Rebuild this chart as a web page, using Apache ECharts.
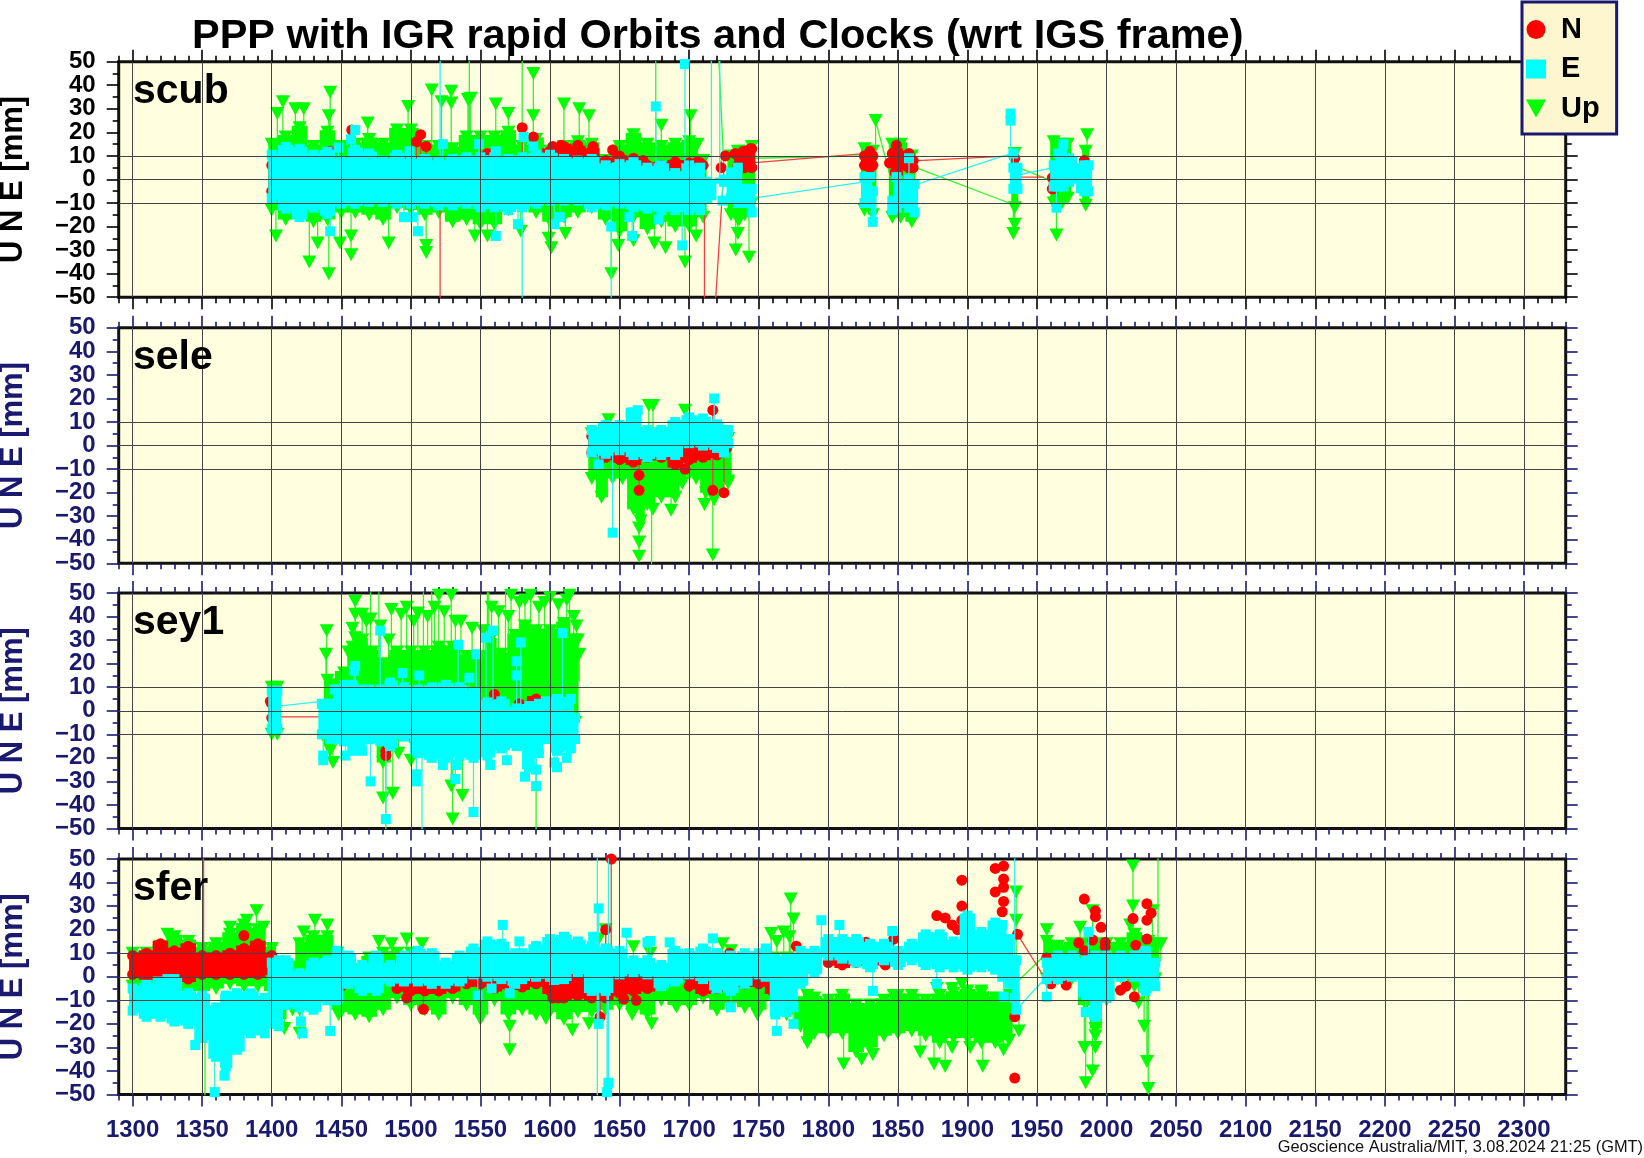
<!DOCTYPE html>
<html><head><meta charset="utf-8">
<style>html,body{margin:0;padding:0;background:#fff}#c{width:1644px;height:1158px}</style>
<script src="https://cdn.jsdelivr.net/npm/echarts@6/dist/echarts.min.js"></script>
</head><body><div id="c"></div>
<script>
const stations=['scub','sele','sey1','sfer'];
const yGridValues=[-10,0,10];
const yLabelsA=[-50,-30,-10,10,30,50];
const yLabelsB=[-40,-20,0,20,40];
const weekMajor=[1300,1350,1400,1450,1500,1550,1600,1650,1700,1750,1800,1850,1900,1950,2000,2050,2100,2150,2200,2250,2300];

// band columns: [week, high, low]; points: [week, value]; links: [[w,v],[w,v]]
const scubEBand=[[1400,10.5,-8],[1410,13.8,-12.4],[1420,13,-16],[1430,10.5,-12],[1440,11.8,-14.6],[1450,8,-10.3],[1460,12.6,-10.3],[1470,11,-9.6],[1480,8,-9.6],[1490,10.5,-10.3],[1500,8,-10.3],[1510,8.7,-10.3],[1520,7.3,-11],[1530,8.7,-11],[1540,9.4,-10.3],[1550,9.4,-11.8],[1560,9.4,-11.8],[1570,8.7,-13],[1580,9.4,-11.8],[1590,10.5,-10.3],[1600,10.5,-9],[1610,8.7,-9],[1620,8,-9],[1630,8.7,-11.8],[1640,6,-11],[1650,6.5,-10.3],[1660,7.3,-11.8],[1670,5,-12.4],[1680,6,-13],[1690,2.7,-13],[1700,6,-13],[1708,5,-13],[1713,-1,-8],[1725,0,-1],[1730,3,-8],[1735,5,-10],[1740,-4,-10],[1745,-4,-14],[1826,1,-10],[1830,1,-10],[1832,-5,-18],[1846,-9,-13],[1849,1,-12],[1852,-2,-10],[1858,0,-12],[1862,-2,-14],[1933,5,-4],[1936,5,-4],[1962,6,-3],[1965,11,-3],[1969,15,-3],[1973,9,-1],[1984,6,-5],[1987,6,-5]];
const scubEPts=[[1448,13.5],[1460,21],[1457,17],[1523,15],[1499,12],[1549,15],[1561,12],[1581,18],[1588,14],[1676,31],[1697,49],[1442,-22],[1505,-22],[1495,-16],[1501,-16],[1561,-24],[1577,-19],[1603,-19],[1607,-16],[1644,-20],[1657,-16],[1659,-24],[1678,-17],[1695,-28],[1724,-9],[1521,80],[1580,-80],[1644,-80],[1716,80],[1722,80],[1858,9],[1931,28],[1931,25],[1933,11],[1964,-12]];
const scubELinks=[[[1745,-8],[1826,-1]],[[1864,-2],[1931,11]],[[1937,2],[1962,5]]];
const scubNBand=[[1400,6,-5],[1410,7,-5],[1420,7,-5],[1430,6,-5],[1440,6,-5],[1450,5,-5],[1460,6,-5],[1470,6,-5],[1480,6,-5],[1490,7,-5],[1500,8,-5],[1510,8,-5],[1520,5,-5],[1530,6,-5],[1540,6,-5],[1550,9,-5],[1560,7,-5],[1570,6,-5],[1580,7,-5],[1590,8,-5],[1600,12,-5],[1610,14,-5],[1620,13,-5],[1630,12,-5],[1640,8,-5],[1650,9,-5],[1660,8,-5],[1670,6,-5],[1680,6,-5],[1690,7,-5],[1700,7,-5],[1708,7,-5],[1735,10,6],[1740,12,5],[1745,13,5],[1826,10,6],[1830,12,5],[1832,10,6],[1848,12,3],[1858,11,5],[1861,8,5],[1934,9,5],[1961,0.7,-4],[1984,8,3]];
const scubNPts=[[1442,12],[1457.5,21],[1507,19],[1504,16],[1511,14],[1580,22],[1588,18],[1555,11],[1602,14],[1608,14.5],[1620,14.5],[1631,14],[1645,12.5],[1650,10],[1660,9],[1667,8],[1690,7.5],[1706,7.5],[1710,6],[1521,-80],[1711,-80],[1726,10],[1723,5],[1733,11],[1739,12],[1744,13],[1742,5.5],[1849,14.5],[1846,11],[1844,7],[1858,5],[1962,-4]];
const scubNLinks=[[[1717,-70],[1725,5]],[[1745,7],[1826,11]],[[1864,8],[1932,10]],[[1935,1],[1955,1]]];
const scubUBand=[[1400,15,-13],[1410,18,-17],[1420,22,-12],[1430,14,-18],[1440,20,-17],[1450,14,-14],[1460,15,-14],[1470,17,-15],[1480,15,-17],[1490,21,-12],[1500,21,-13],[1510,14,-15],[1520,14,-14],[1530,13,-18],[1540,18,-17],[1550,18,-19],[1560,18,-19],[1570,20,-13],[1580,14,-12],[1590,17,-14],[1600,12,-18],[1610,14,-16],[1620,16,-14],[1630,15,-12],[1640,8,-17],[1650,14,-22],[1660,19,-16],[1670,15,-21],[1680,14,-18],[1690,15,-20],[1700,16,-20],[1710,8,-16],[1730,10,-15],[1735,12,-17],[1740,12,-15],[1745,14,-10],[1826,13,-13],[1832,12,-15],[1846,15,-16],[1852,15,-16],[1860,10,-18],[1934,11,-12],[1962,16,-10],[1968,15,-10],[1972,15,-8],[1985,12,-11]];
const scubUPts=[[1404,28],[1408,33],[1417,30],[1423,30],[1442,37],[1441,27],[1469,24],[1498,31],[1515,38],[1529,37.5],[1529,32.5],[1522,33],[1541,34],[1543,34.5],[1561,32],[1570,28],[1588,45],[1588,27],[1610,32],[1621,30],[1628,27],[1680,23],[1701,27],[1706,15],[1403,-24],[1427,-35],[1441,-40],[1433,-27],[1449,-27],[1457,-32],[1457,-24],[1484,-27],[1511,-31],[1511,-28],[1546,-24],[1555,-24],[1579,-22],[1599,-25],[1601,-29],[1611,-23],[1644,-40],[1649,-28],[1660,-26],[1675,-27],[1683,-29],[1697,-35],[1705,-24],[1542,80],[1580,80],[1676,80],[1733.5,-30],[1743,-33],[1735,-23],[1736,-17],[1934,-19],[1933,-23],[1964,-23.6],[1986,19],[1834,25]];
const scubULinks=[[[1719,80],[1725,5]],[[1745,9],[1826,10]],[[1834,25],[1846,-2]],[[1863,5],[1930,-10]],[[1937,5],[1962,-1]]];

const seleEBand=[[1630,6.6,-3],[1640,8.7,-3.5],[1650,8.7,-2],[1660,14,-4],[1670,6.6,-5],[1680,6.6,-4],[1690,10,-4],[1700,12,1],[1710,11.5,0],[1720,9,-1],[1728,6.6,1]];
const seleEPts=[[1718,20],[1635,-8],[1645,-37],[1725,-3],[1663,15],[1658,14]];
const seleELinks=[];
const seleNBand=[[1630,4,-3],[1640,4,-5],[1650,4,-6],[1660,4,-7],[1670,4,-5],[1680,3,-5],[1690,3,-8],[1700,3,-6],[1710,3,-5],[1720,3,-4],[1727,2,-1]];
const seleNPts=[[1664,-12.6],[1664,-19],[1717,15],[1717,-19],[1725,-20],[1697,-10]];
const seleNLinks=[];
const seleUBand=[[1630,5,-14],[1637,5,-22],[1645,5,-14],[1652,3,-14],[1660,5,-27],[1665,5,-32],[1670,5,-25],[1680,5,-22],[1690,5,-22],[1695,5,-16],[1700,3,-12],[1705,3,-14],[1712,5,-20],[1720,3,-20],[1728,3,-15]];
const seleUPts=[[1642,11],[1671,17],[1674,17],[1697,15],[1664,-47],[1664,-41],[1664,-35],[1664,-29],[1674,-27],[1687,-27.5],[1711,-25],[1718,-23],[1717,-46.5],[1673,-80],[1728,-16]];
const seleULinks=[];

const sey1EBand=[[1400,8.5,-7.6],[1404,8.5,-7.6],[1436,3,-10],[1442,3,-12],[1447,9,-12],[1452,11,-13],[1458,11,-17],[1465,9,-17],[1470,9,-12],[1478,9,-13],[1485,12,-15],[1495,10,-11],[1505,9,-18],[1515,10,-20],[1525,11,-20],[1535,10,-19],[1545,8,-20],[1555,3.5,-19],[1565,4,-16],[1576,1,-15],[1585,2,-24],[1592,3,-18],[1597,4,-12],[1605,5,-17],[1615,5,-16],[1618,-3,-12]];
const sey1EPts=[[1445,9],[1459,17],[1460,19],[1478,34],[1494,16],[1506,15],[1534,28],[1547,24],[1554,31],[1559,34],[1542,14],[1547,8],[1576,21],[1576,15],[1579,29],[1609,33],[1437,-19],[1437,-21],[1453,-19],[1471,-30],[1482,-46],[1504,-27],[1504,-30],[1532,-29],[1545,-43],[1523,-23],[1533,-23],[1557,-23],[1569,-21],[1582,-28],[1590,-32],[1590,-25],[1603,-22],[1605,-24],[1612,-20],[1508,-80]];
const sey1ELinks=[[[1405,2],[1436,4]]];
const sey1NBand=[[1400,3,-3],[1440,0,-5],[1460,4,-10],[1482,0,-17],[1500,3,-10],[1560,7,-8],[1578,3,-5],[1590,5,-5],[1610,3,-5]];
const sey1NPts=[[1482,-19],[1529,3],[1399,4]];
const sey1NLinks=[[[1405,-2.6],[1436,-2.6]]];
const sey1UBand=[[1400,10,-10],[1404,10,-10],[1440,13,-14],[1452,16,-9],[1458,27,-9],[1465,30,-9],[1472,25,-9],[1480,20,-22],[1490,25,-10],[1500,25,-12],[1510,25,-8],[1520,27,-8],[1530,27,-14],[1540,23,-8],[1550,23,-8],[1557,30,-8],[1565,24,-8],[1575,32,-8],[1582,36,-10],[1590,34,-8],[1600,34,-8],[1610,37,-8],[1618,30,-5]];
const sey1UPts=[[1439.5,34],[1439,24],[1442,-17],[1444,-22],[1460,46.5],[1486,43],[1493,41],[1497,44],[1505,41.5],[1517,44],[1529,49],[1520,49],[1536,38],[1552,34],[1600,48],[1572,49],[1586,49],[1614,49],[1480,-37],[1487,-35],[1491,-18],[1500,-21],[1529,-32],[1537,-36],[1530,-46],[1590,-80],[1482,-80],[1471,80],[1477,80],[1509,80],[1515,80],[1555,80],[1556,80],[1568,80],[1460,41],[1465,41],[1471,39],[1468,38],[1458,35],[1460,31],[1478,36],[1484,30],[1502,38],[1512,40],[1524,42],[1532,38],[1544,35],[1558,44],[1563,42],[1570,40],[1578,46],[1582,47],[1592,44],[1596,46],[1606,45],[1612,47],[1617,40],[1619,36],[1455,25],[1620,30],[1621,24]];
const sey1ULinks=[[[1405,-10],[1436,-10]]];

const sferEBand=[[1300,-5,-14.4],[1310,-3.4,-17],[1320,-2.7,-17],[1330,-1,-19],[1340,-7,-20],[1350,-8,-26],[1360,-13,-34],[1367,-8,-38],[1375,-7,-31],[1385,-7,-24],[1395,-9,-24],[1400,6,-20],[1405,7,-21],[1410,7,-12],[1420,1.5,-13],[1430,6,-14],[1440,7,-10],[1447,11,-10],[1455,9,-3],[1465,5,-6],[1475,9,-6],[1485,5,-2],[1495,9,-2],[1505,11,-2],[1515,10,-3],[1525,6,-3],[1535,9,-2],[1545,12,1],[1555,15,0],[1565,14,-1],[1575,10,-3],[1580,10,-1],[1590,13,0],[1600,16,0],[1610,17,-1],[1620,15,2],[1630,13,-6],[1640,12,-6],[1650,11,1],[1660,7,2],[1670,7,1],[1680,5,-4],[1690,11,-2],[1700,10,1],[1710,12,-1],[1720,10,-5],[1730,9,-6],[1740,10,-3],[1750,10,1],[1755,12,0],[1762,8,-16],[1770,8,-15],[1775,8,-13],[1780,11,-3],[1790,11,2],[1800,16,9],[1810,16,7.7],[1820,16,6],[1830,14,4],[1840,14,7],[1850,11,5],[1860,14,7],[1870,18,5],[1880,18,4],[1890,15,4],[1900,26,3],[1910,19,4],[1920,23,3],[1925,22,0],[1930,16,-3],[1935,7,-14],[1957,6,-1],[1965,9,-1],[1975,9,0],[1985,7,-8],[1992,9,-17],[2000,9,-9],[2010,9,0],[2020,9,0],[2028,11,-6],[2035,6,-4]];
const sferEPts=[[1318,-2],[1325,-1],[1345,-29],[1366,-42],[1359,-49],[1421,-19],[1422,-24],[1442,-23],[1566,22],[1558,-5],[1548,-8],[1571,-7],[1578,15],[1655,18.7],[1670,14.6],[1672,15.2],[1686,14.6],[1717,16.3],[1603,-1.4],[1635,29],[1631,17],[1635,-20],[1642,-45],[1641,-49],[1730,-13],[1763,-23],[1775,-20],[1795,24],[1808,22],[1846,19.4],[1832,-6],[1878,-3],[1926,-8.5],[1934,-9],[1957,-8.5],[1987,19],[1985,-15],[1991,-16],[1634,80],[1634,-80],[1642,80],[1642,-80],[1934,80]];
const sferELinks=[[[1935,-14],[1957,0]]];
const sferNBand=[[1300,9,1],[1310,10,0],[1320,14,1],[1330,11,0],[1340,13,-1],[1350,9,1],[1360,9,1],[1370,10,1],[1380,12,1],[1390,14,1],[1400,9,2],[1450,1,-4],[1470,1,-4],[1490,0,-5],[1500,0,-6],[1510,0,-6],[1520,0,-6],[1530,0,-5],[1540,0,-3],[1550,1,-3],[1560,0,-5],[1570,0,-4],[1580,0,-4.4],[1590,0,-3],[1600,0,-6],[1610,0,-9],[1620,0,-8],[1630,0,-9],[1640,0,-9],[1650,0,-7],[1660,0,-6],[1670,0,-5],[1680,0,-3],[1700,0,-4],[1710,0,-6],[1720,0,-5],[1730,0,-3],[1740,0,-3],[1750,0,-3],[1760,0,-6],[1800,10,6],[1810,10,5],[1820,10,6],[1830,10,6],[1840,10,6],[1850,9,6]];
const sferNPts=[[1380,17.5],[1509,-13.8],[1497,-9],[1602,-9],[1606,-9],[1653,-9.5],[1662,-10],[1644,50],[1640,20],[1636,-17],[1729,10],[1777,13],[1827,14.7],[1847,16],[1841,5],[1896,41],[1896,30],[1896,24],[1878,26],[1884,25],[1889,22],[1893,20],[1920,46],[1926,47],[1926,41.5],[1920,36],[1926,38],[1926,32],[1925,27.6],[1936,18],[1934,-17],[1934,-43],[1984,33],[1992,28],[1992,25.5],[1996,21],[1980,14.4],[1999,14.6],[1999,12.7],[1984,11],[1990,15.6],[2019,24.7],[2029,31],[2032,27],[2029,24],[2029,16],[2021,13.4],[2020,-8.5],[2010,-5.7],[2014,-4],[1960,-3],[1971,-3.5],[1957,8],[1351,80]];
const sferNLinks=[[[1936,18],[1955,0]]];
const sferUBand=[[1300,10,-4],[1310,10,-4],[1320,13,-7],[1330,17,-6],[1340,15,-6],[1350,12,-6],[1360,14,-5],[1370,18,-3],[1380,22,-4],[1390,20,-4],[1400,12,-6],[1405,-3,-18],[1415,4,-14],[1420,14,-14],[1430,17,-8],[1440,17,-8],[1447,10,-14],[1450,2,-15],[1460,3,-16],[1470,8,-17],[1480,10,-14],[1490,10,-9],[1500,10,-12],[1510,8,-14],[1520,3,-16],[1530,3,-9],[1540,3,-12],[1550,3,-16],[1560,3,-10],[1570,3,-16],[1580,0,-14],[1590,0,-16],[1600,0,-15],[1610,0,-18],[1620,0,-15],[1630,0,-15],[1640,8,-14],[1650,0,-12],[1660,5,-14],[1670,5,-16],[1680,0,-10],[1690,0,-12],[1700,0,-12],[1710,0,-9],[1720,5,-14],[1730,5,-11],[1740,0,-13],[1750,0,-14],[1760,8,-10],[1770,8,-16],[1780,-11,-21],[1785,-8,-28],[1790,-9,-24],[1800,-10,-24],[1810,-8,-24],[1820,-12,-32],[1830,-12,-30],[1840,-10,-25],[1850,-8,-24],[1860,-8,-23],[1870,-10,-25],[1880,-8,-28],[1890,-7,-26],[1900,-6,-26],[1910,-7,-28],[1920,-9,-28],[1930,-8,-27],[1957,15,-1],[1965,13,-1],[1975,14,-1],[1985,14,-12],[1992,14,-22],[2000,14,-10],[2010,14,0],[2020,18,-4],[2030,15,-5],[2035,14,-1]];
const sferUPts=[[1325,18],[1389,28],[1382,24],[1370,21],[1394,21],[1409,-22],[1420,-24],[1423,19],[1431,24],[1440,22],[1448,-16],[1550,-18],[1571,-21],[1571,-31],[1477,15],[1486,14],[1497,16],[1508,14],[1597,-17.7],[1616,-22.6],[1628,-20],[1673,-20],[1659,-16],[1691,-12.7],[1720,-14],[1749,-16],[1773,33],[1775,24.5],[1759,18.4],[1768,19],[1763,15],[1772,17],[1640,20],[1635,16],[1660,12.7],[1672,10],[1724,14],[1730,11],[1811,-37],[1824,-35],[1832,-33],[1866,-32],[1876,-37],[1884,-38],[1911,-38],[1902,-30],[1889,-30],[1926,-31],[1878,-5],[1889,-5],[1896,-3],[1910,-6],[1847,-8],[1935,36],[1935,24],[1937,-23],[1957,20],[1981,21],[1990,28],[2017,22],[2033,28],[2019,47],[2019,30],[2039,14],[1984,-30],[1985,-45],[1992,-30],[1990,-40],[1992,-25],[2027,-21],[2029,-36],[2030,-47.4],[2023,-11],[2000,-80],[2037,80],[1352,-80]];
const sferULinks=[[[1936,-2],[1957,10]]];

const NAVY='#191970', RED='#ff0000', CYAN='#00ffff', GREEN='#00ff00';
const tops=[61.7,327.8,593,859], H=235.5, L=118.7, W=1447;
const XMIN=1290, XMAX=2330;
const weekMinor=[];for(let w=XMIN;w<=XMAX;w+=10){if(!weekMajor.includes(w))weekMinor.push(w);}
const panelData=[
 [scubUBand,scubUPts,scubULinks,scubNBand,scubNPts,scubNLinks,scubEBand,scubEPts,scubELinks],
 [seleUBand,seleUPts,seleULinks,seleNBand,seleNPts,seleNLinks,seleEBand,seleEPts,seleELinks],
 [sey1UBand,sey1UPts,sey1ULinks,sey1NBand,sey1NPts,sey1NLinks,sey1EBand,sey1EPts,sey1ELinks],
 [sferUBand,sferUPts,sferULinks,sferNBand,sferNPts,sferNLinks,sferEBand,sferEPts,sferELinks]];
const comps=[
 {name:'Up',symbol:'triangle',size:[14,13],rot:180,color:GREEN,z:2,lc:'#33f033',padTop:2,padBot:0},
 {name:'N',symbol:'circle',size:11,rot:0,color:RED,z:3,lc:'#f04040',padTop:3,padBot:3},
 {name:'E',symbol:'rect',size:10,rot:0,color:CYAN,z:4,lc:'#30f0f0',padTop:2,padBot:2}];

const grids=[],xAxes=[],yAxes=[],series=[];
tops.forEach((t,i)=>{
 const col=i===0?'#000':NAVY;
 grids.push({left:L,top:t,width:W,height:H,show:true,backgroundColor:'#ffffe0',borderColor:'#111',borderWidth:3,z:0,outerBoundsMode:'none',containLabel:false});
 const ax=(pos,vals,len,lab)=>({type:'value',gridIndex:i,position:pos,min:XMIN,max:XMAX,axisLine:{show:false,onZero:false},
   axisTick:{show:true,length:len,customValues:vals,lineStyle:{color:col,width:1.6}},
   axisLabel:lab?{show:true,customValues:weekMajor,formatter:v=>String(v),color:NAVY,fontFamily:'Liberation Sans',fontWeight:'bold',fontSize:24,margin:24,hideOverlap:false}:{show:false},
   splitLine:{show:false}});
 const base=xAxes.length;
 xAxes.push(ax('bottom',weekMajor,12,i===3),ax('top',weekMajor,12,false),ax('bottom',weekMinor,6,false),ax('top',weekMinor,6,false));
 const labelStyle=vals=>({show:true,customValues:vals,color:col,fontFamily:'Liberation Sans',fontWeight:'bold',fontSize:24,margin:23,showMinLabel:true,showMaxLabel:true,hideOverlap:false,formatter:v=>String(v).replace('-','\u2212')});
 const ay=(pos,lab)=>({type:'value',gridIndex:i,position:pos,min:-50,max:50,interval:10,axisLine:{show:false,onZero:false},
   axisTick:{show:true,length:12,lineStyle:{color:col,width:1.6}},minorTick:{show:true,splitNumber:2,length:6,lineStyle:{color:col,width:1.6}},
   axisLabel:lab?labelStyle(yLabelsA):{show:false},
   name:lab?'U N E [mm]':'',nameLocation:'middle',nameRotate:90,nameGap:90,
   nameTextStyle:{color:col,fontFamily:'Liberation Sans',fontWeight:'bold',fontSize:31},
   splitLine:{show:false}});
 const yb=yAxes.length;
 yAxes.push(ay('left',true),ay('right',false),
  {type:'value',gridIndex:i,position:'left',min:-50,max:50,interval:10,axisLine:{show:false,onZero:false},axisTick:{show:false},splitLine:{show:false},axisLabel:labelStyle(yLabelsB)});
 comps.forEach((c,k)=>{
  const band=panelData[i][k*3],pts=panelData[i][k*3+1],links=panelData[i][k*3+2];
  const bandData=band.map((b,j)=>{
    const prev=j>0?b[0]-band[j-1][0]:99,next=j<band.length-1?band[j+1][0]-b[0]:99;
    return [b[0],b[1],b[2],prev>12?2.5:prev/2+0.6,next>12?2.5:next/2+0.6];});
  const scatter=[];band.forEach(b=>{scatter.push([b[0],b[1]],[b[0],b[2]]);});
  const lineData=[];
  pts.forEach(p=>{
    let best=null;band.forEach(b=>{if(best===null||Math.abs(b[0]-p[0])<Math.abs(best[0]-p[0]))best=b;});
    if(best&&Math.abs(best[0]-p[0])<=12){lineData.push({value:[p[0],(best[1]+best[2])/2],symbol:'none'});}
    lineData.push({value:p});lineData.push(['-','-']);
  });
  links.forEach(l=>{lineData.push({value:l[0],symbol:'none'},{value:l[1],symbol:'none'},['-','-']);});
  const common={name:c.name,xAxisIndex:base,yAxisIndex:yb,z:c.z,animation:false,silent:true};
  const lineSeries=Object.assign({},common,{type:'line',z:c.z-0.5,data:lineData,symbol:c.symbol,symbolSize:c.size,symbolRotate:c.rot,connectNulls:false,
    showSymbol:true,lineStyle:{color:c.lc,width:1.3},itemStyle:{color:c.color},clip:true});
  if(k===0){
    lineSeries.markLine={silent:true,animation:false,symbol:'none',label:{show:false},lineStyle:{color:'#444',width:1,type:'solid'},
      data:yGridValues.map(v=>({yAxis:v})).concat(weekMajor.map(w=>({xAxis:w})))};
    lineSeries.z=1;
  }
  series.push(lineSeries);
  series.push(Object.assign({},common,{type:'custom',data:bandData,encode:{x:0,y:1},itemStyle:{color:c.color},clip:true,
    renderItem:(params,api)=>{
      const p0=api.coord([api.value(0)-api.value(3),api.value(1)]),p1=api.coord([api.value(0)+api.value(4),api.value(2)]);
      const yt=p0[1]-c.padTop,yb2=p1[1]+c.padBot;
      return {type:'rect',shape:{x:p0[0],y:yt,width:p1[0]-p0[0],height:yb2-yt},style:{fill:c.color}};
    }}));
  series.push(Object.assign({},common,{type:'scatter',data:scatter,symbol:c.symbol,symbolSize:c.size,symbolRotate:c.rot,itemStyle:{color:c.color,opacity:1},clip:true}));
 });
});

const titles=[{text:'PPP with IGR rapid Orbits and Clocks (wrt IGS frame)',left:192,top:16,padding:0,textStyle:{fontFamily:'Liberation Sans',fontWeight:'bold',fontSize:41.5,color:'#000'}},
 {text:'Geoscience Australia/MIT, 3.08.2024 21:25 (GMT)',right:1,top:1139,padding:0,textStyle:{fontFamily:'Liberation Sans',fontWeight:'normal',fontSize:16.4,color:'#111'}}];
stations.forEach((s,i)=>titles.push({text:s,left:133,top:tops[i]+9,padding:0,z:8,textStyle:{fontFamily:'Liberation Sans',fontWeight:'bold',fontSize:41,color:'#000'}}));

const chart=echarts.init(document.getElementById('c'),null,{renderer:'canvas',width:1644,height:1158});
chart.setOption({
 animation:false,backgroundColor:'#fff',title:titles,grid:grids,xAxis:xAxes,yAxis:yAxes,series:series,
 legend:{show:true,orient:'vertical',left:1522,top:2,z:20,padding:[13,17,11,4],itemGap:10.5,itemWidth:20,itemHeight:19,
  backgroundColor:'#fdf6cf',borderColor:NAVY,borderWidth:3,selectedMode:false,
  data:[{name:'N',icon:'circle'},{name:'E',icon:'rect'},{name:'Up',icon:'path://M0 0 L20 0 L10 18 Z'}],
  textStyle:{fontFamily:'Liberation Sans',fontWeight:'bold',fontSize:29,color:'#000',padding:[0,0,0,10]}}
});
</script></body></html>
